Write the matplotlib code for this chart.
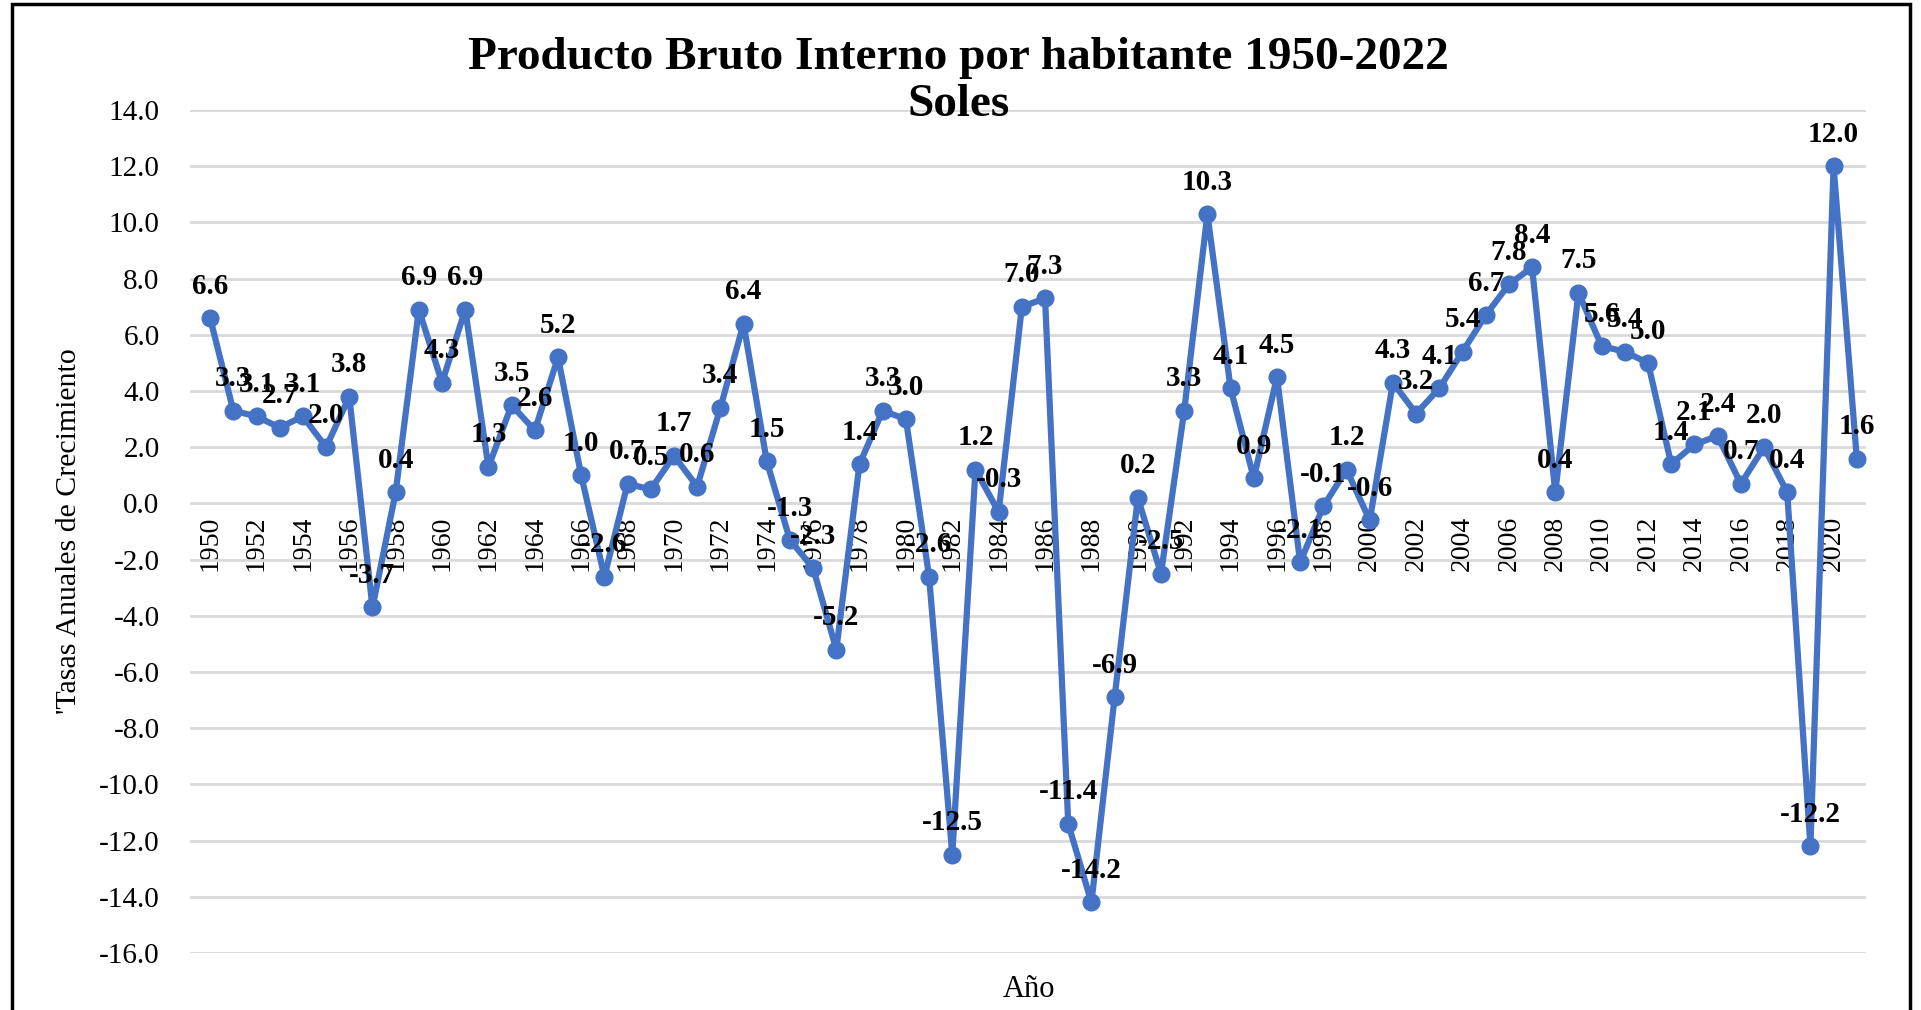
import numpy as np
import matplotlib.pyplot as plt
from matplotlib.patches import Rectangle

plt.rcParams['font.family'] = ['Liberation Serif', 'DejaVu Serif']
plt.rcParams['axes.unicode_minus'] = False

# Años y tasas de crecimiento del PBI por habitante
years = list(range(1950, 2022))
growth = [6.6, 3.3, 3.1, 2.7, 3.1, 2.0, 3.8, -3.7, 0.4, 6.9,
          4.3, 6.9, 1.3, 3.5, 2.6, 5.2, 1.0, -2.6, 0.7, 0.5,
          1.7, 0.6, 3.4, 6.4, 1.5, -1.3, -2.3, -5.2, 1.4, 3.3,
          3.0, -2.6, -12.5, 1.2, -0.3, 7.0, 7.3, -11.4, -14.2, -6.9,
          0.2, -2.5, 3.3, 10.3, 4.1, 0.9, 4.5, -2.1, -0.1, 1.2,
          -0.6, 4.3, 3.2, 4.1, 5.4, 6.7, 7.8, 8.4, 0.4, 7.5,
          5.6, 5.4, 5.0, 1.4, 2.1, 2.4, 0.7, 2.0, 0.4, -12.2,
          12.0, 1.6]
y_ticks = np.arange(-16, 15, 2)

line_color = '#4472C4'

fig = plt.figure(figsize=(19.21, 10.10), dpi=100)
ax = fig.add_axes([0.099, 0.0564, 0.8724, 0.8346])

# eje x cruza en y=0 (hay que hacerlo antes de poner los ticks)
ax.spines['bottom'].set_position(('data', 0))
for s in ax.spines.values():
    s.set_visible(False)

x = np.arange(len(years))
ax.plot(x, growth, color=line_color, lw=4.5, marker='o', markersize=12,
        markerfacecolor=line_color, markeredgecolor=line_color, zorder=3)

# Etiquetas de datos sobre cada punto
for xi, v in zip(x, growth):
    ax.annotate(f'{v:.1f}', (xi, v), xytext=(0, 23), textcoords='offset points',
                ha='center', va='center', fontsize=21, fontweight='bold',
                zorder=4, annotation_clip=False)

ax.set_ylim(-16, 14)
ax.set_xlim(-0.86, 71.4)
ax.set_yticks(y_ticks)
ax.set_yticklabels([f'{t:.1f}' for t in y_ticks], fontsize=21)
ax.set_xticks(x[::2])
ax.set_xticklabels([str(y) for y in years[::2]], rotation=90, fontsize=20)
ax.tick_params(axis='x', length=0, pad=9)
ax.tick_params(axis='y', length=0, pad=22)
ax.yaxis.grid(True, color='#D9D9D9', lw=2)
ax.set_axisbelow(True)

ax.set_ylabel("'Tasas Anuales de Crecimiento", fontsize=21.5, labelpad=12)
fig.text(0.5355, 0.02, 'Año', ha='center', va='center', fontsize=22)
fig.text(0.499, 0.943, 'Producto Bruto Interno por habitante 1950-2022',
         ha='center', va='center', fontsize=34, fontweight='bold')
fig.text(0.499, 0.896, 'Soles', ha='center', va='center', fontsize=34,
         fontweight='bold')

fig.patches.append(Rectangle((0.0062, -0.01), 0.988, 1.006, transform=fig.transFigure,
                             fill=False, edgecolor='black', lw=2.5))

fig.savefig('out.png', dpi=100)
